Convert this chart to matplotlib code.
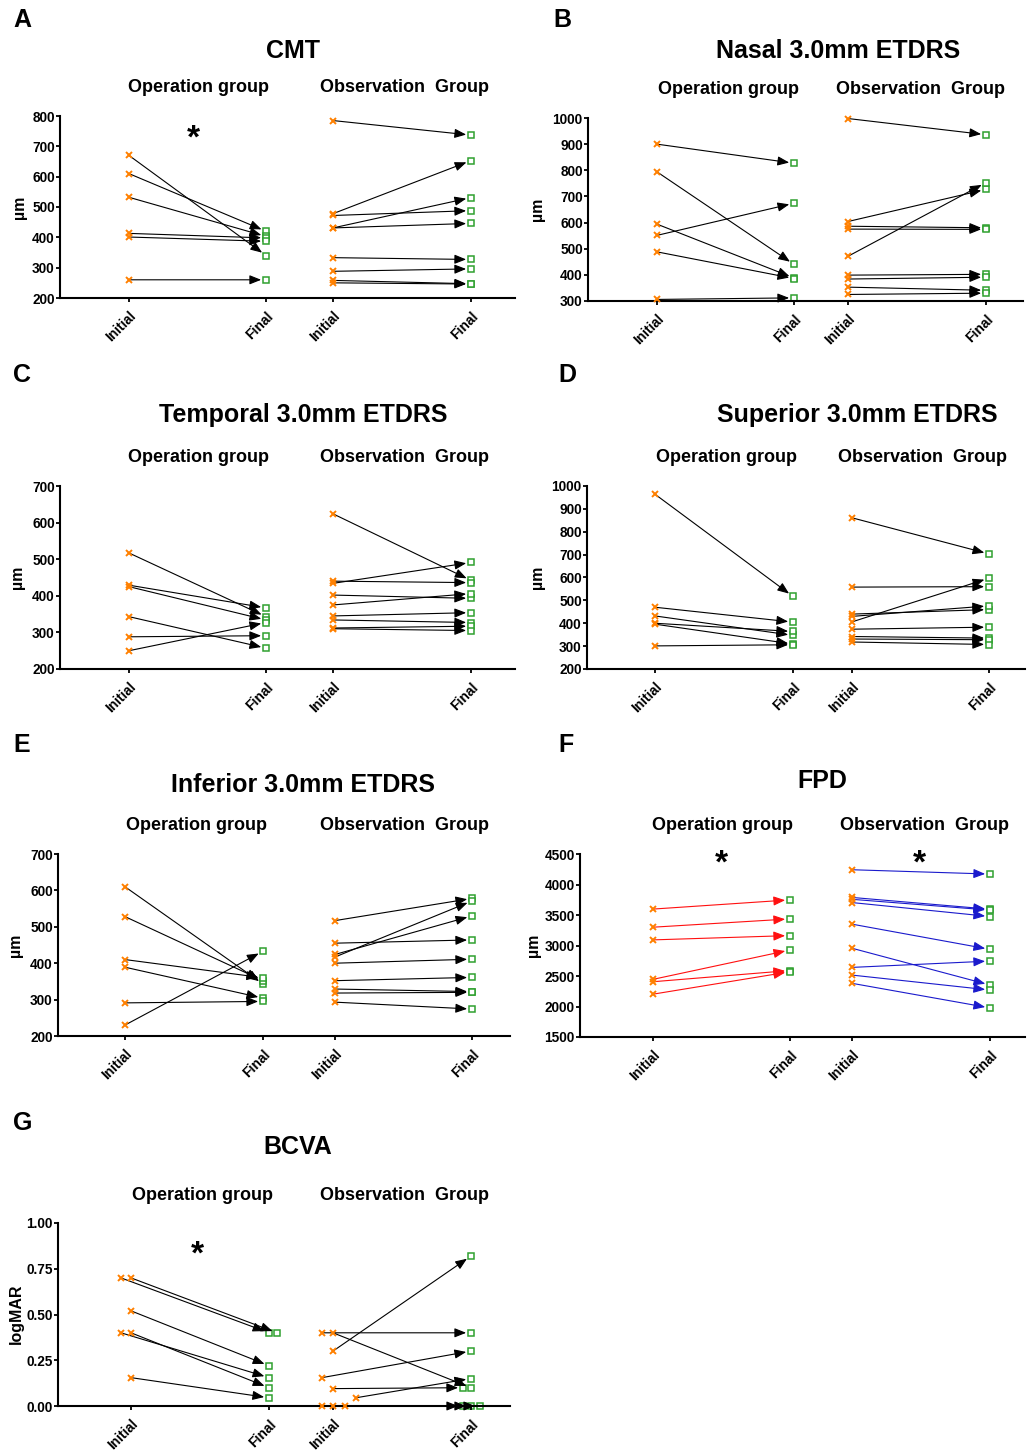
import matplotlib.pyplot as plt

plt.rcParams['font.family'] = ['Liberation Sans', 'DejaVu Sans']
plt.rcParams['font.weight'] = 'bold'

W, H = 1031, 1453
ORANGE = '#ff8000'
GREEN = '#2fa02f'

x_labels = ['Initial', 'Final', 'Initial', 'Final']

# A: CMT
cmt_op_initial = [670, 610, 532, 413, 401, 260]
cmt_op_final = [340, 420, 403, 398, 387, 260]
cmt_obs_initial = [785, 478, 472, 431, 431, 333, 288, 258, 250]
cmt_obs_final = [737, 653, 488, 531, 446, 327, 296, 247, 246]

# B: Nasal 3.0mm ETDRS
nasal_op_initial = [900, 794, 594, 551, 488, 306]
nasal_op_final = [827, 440, 388, 674, 386, 312]
nasal_obs_initial = [998, 604, 586, 575, 471, 399, 384, 353, 325]
nasal_obs_final = [936, 727, 580, 574, 753, 402, 391, 341, 330]

# C: Temporal 3.0mm ETDRS
temp_op_initial = [517, 429, 425, 343, 288, 250]
temp_op_final = [343, 367, 334, 257, 291, 327]
temp_obs_initial = [624, 434, 440, 402, 375, 345, 334, 312, 310]
temp_obs_final = [442, 491, 436, 393, 406, 354, 327, 317, 305]

# D: Superior 3.0mm ETDRS
sup_op_initial = [964, 470, 432, 400, 396, 301]
sup_op_final = [517, 405, 347, 364, 309, 306]
sup_obs_initial = [861, 558, 440, 430, 406, 374, 342, 331, 318]
sup_obs_final = [703, 560, 460, 476, 597, 383, 335, 328, 307]

# E: Inferior 3.0mm ETDRS
inf_op_initial = [610, 528, 410, 389, 291, 230]
inf_op_final = [343, 352, 360, 304, 295, 433]
inf_obs_initial = [517, 455, 424, 417, 400, 352, 329, 318, 293]
inf_obs_final = [578, 464, 530, 571, 411, 361, 322, 320, 274]

# F: FPD
fpd_op_initial = [3597, 3300, 3092, 2445, 2406, 2202]
fpd_op_final = [3748, 3436, 3163, 2926, 2590, 2570]
fpd_obs_initial = [4242, 3788, 3757, 3704, 3350, 2955, 2641, 2515, 2380]
fpd_obs_final = [4171, 3595, 3580, 3475, 2937, 2352, 2745, 2270, 1977]

# G: BCVA (logMAR)
bcva_op_initial = [0.70, 0.70, 0.52, 0.40, 0.40, 0.155]
bcva_op_final = [0.40, 0.40, 0.22, 0.155, 0.10, 0.045]
bcva_obs_initial = [0.40, 0.40, 0.30, 0.155, 0.095, 0.045, 0.0, 0.0, 0.0]
bcva_obs_final = [0.40, 0.10, 0.82, 0.30, 0.10, 0.15, 0.0, 0.0, 0.0]
# horizontal scatter of overlapping points (pixels)
bcva_op_init_dx = [-10, 0, 0, -10, 0, 0]
bcva_op_final_dx = [0, 8, 0, 0, 0, 0]
bcva_obs_init_dx = [-11, 0, 0, -11, 0, 23, -11, 0, 12]
bcva_obs_final_dx = [0, 0, 0, 0, -8, 0, -8, 0, 9]

fig = plt.figure(figsize=(W / 100, H / 100), dpi=100)


def ftext(x, y, s, **kw):
    fig.text(x / W, 1 - y / H, s, **kw)


def draw_panel(box, ticks_px, ylim, yticks, op_i, op_f, obs_i, obs_f,
               arrow_colors=('black', 'black'), dx=None, yfmt='{:.0f}'):
    left, right, top, bottom = box
    ax = fig.add_axes([left / W, 1 - bottom / H, (right - left) / W, (bottom - top) / H])
    t0 = ticks_px[0]
    unit = ticks_px[1] - ticks_px[0]
    xs = [(t - t0) / unit for t in ticks_px]
    if dx is None:
        dx = [[0] * len(op_i), [0] * len(op_f), [0] * len(obs_i), [0] * len(obs_f)]
    groups = [(op_i, op_f, xs[0], xs[1], dx[0], dx[1], arrow_colors[0]),
              (obs_i, obs_f, xs[2], xs[3], dx[2], dx[3], arrow_colors[1])]
    for yi, yf, xa, xb, da, db, col in groups:
        for k in range(len(yi)):
            x0 = xa + da[k] / unit
            x1 = xb + db[k] / unit
            ax.annotate('', xy=(x1, yf[k]), xytext=(x0, yi[k]),
                        arrowprops=dict(arrowstyle='-|>,head_length=0.7,head_width=0.28',
                                        color=col, lw=0.8, shrinkA=0, shrinkB=3.5,
                                        mutation_scale=10),
                        annotation_clip=False, zorder=2)
            ax.plot(x0, yi[k], marker='x', color=ORANGE, ms=5, mew=1.4,
                    linestyle='none', clip_on=False, zorder=3)
            ax.plot(x1, yf[k], marker='s', mfc='white', mec=GREEN, ms=5, mew=1.1,
                    linestyle='none', clip_on=False, zorder=1)
    ax.set_xlim((left - t0) / unit, (right - t0) / unit)
    ax.set_ylim(*ylim)
    ax.set_yticks(yticks)
    ax.set_yticklabels([yfmt.format(v) for v in yticks])
    ax.set_xticks(xs)
    ax.set_xticklabels(x_labels, rotation=45, ha='right', va='top', rotation_mode='anchor')
    for s in ['top', 'right']:
        ax.spines[s].set_visible(False)
    for s in ['left', 'bottom']:
        ax.spines[s].set_linewidth(1.5)
    ax.tick_params(axis='y', direction='out', length=3, width=1.3, labelsize=9.8, pad=0.8)
    ax.tick_params(axis='x', direction='out', length=3, width=1.3, labelsize=10, pad=5)
    ax.patch.set_alpha(0)
    return ax, xs


def star(ax, x, y):
    ax.text(x, y, '*', fontsize=24, fontweight='bold', ha='center', va='center',
            clip_on=False)


def headers(letter, lxy, title, txy, gy, op_x, obs_x, ylab, ylxy):
    ftext(lxy[0], lxy[1], letter, fontsize=18, ha='left', va='center')
    ftext(txy[0], txy[1], title, fontsize=18, ha='center', va='center')
    ftext(op_x, gy, 'Operation group', fontsize=13, ha='center', va='center')
    ftext(obs_x, gy, 'Observation  Group', fontsize=13, ha='center', va='center')
    ftext(ylxy[0], ylxy[1], ylab, fontsize=11.5, ha='center', va='center', rotation=90)


# A
axA, xsA = draw_panel((60, 515, 116, 298), (129, 266, 333, 471), (200, 800),
                      list(range(200, 801, 100)),
                      cmt_op_initial, cmt_op_final, cmt_obs_initial, cmt_obs_final)
star(axA, 0.47, 725)
headers('A', (13, 20), 'CMT', (293, 51), 87, 199, 404, 'µm', (19, 207))

# B
axB, xsB = draw_panel((588, 1023, 118, 301), (657, 794, 848, 986), (300, 1000),
                      list(range(300, 1001, 100)),
                      nasal_op_initial, nasal_op_final, nasal_obs_initial, nasal_obs_final)
headers('B', (553, 20), 'Nasal 3.0mm ETDRS', (838, 51), 90, 728, 920, 'µm', (538, 209))

# C
axC, xsC = draw_panel((60, 515, 486, 669), (129, 266, 333, 471), (200, 700),
                      list(range(200, 701, 100)),
                      temp_op_initial, temp_op_final, temp_obs_initial, temp_obs_final)
headers('C', (13, 375), 'Temporal 3.0mm ETDRS', (303, 415), 458, 199, 404, 'µm', (18, 577))

# D
axD, xsD = draw_panel((587, 1025, 486, 669), (655, 793, 852, 989), (200, 1000),
                      list(range(200, 1001, 100)),
                      sup_op_initial, sup_op_final, sup_obs_initial, sup_obs_final)
headers('D', (558, 375), 'Superior 3.0mm ETDRS', (857, 415), 458, 727, 923, 'µm', (538, 577))

# E
axE, xsE = draw_panel((58, 510, 854, 1036), (125, 263, 335, 472), (200, 700),
                      list(range(200, 701, 100)),
                      inf_op_initial, inf_op_final, inf_obs_initial, inf_obs_final)
headers('E', (13, 745), 'Inferior 3.0mm ETDRS', (303, 785), 826, 196, 404, 'µm', (16, 945))

# F
axF, xsF = draw_panel((580, 1025, 854, 1037), (653, 790, 852, 990), (1500, 4500),
                      list(range(1500, 4501, 500)),
                      fpd_op_initial, fpd_op_final, fpd_obs_initial, fpd_obs_final,
                      arrow_colors=('#ff1010', '#1a1acc'))
star(axF, 0.50, 4340)
star(axF, xsF[2] + 0.49, 4340)
headers('F', (558, 745), 'FPD', (822, 781), 826, 723, 924, 'µm', (533, 945))

# G
axG, xsG = draw_panel((58, 510, 1223, 1406), (131, 269, 333, 471), (0, 1.0),
                      [0, 0.25, 0.5, 0.75, 1.0],
                      bcva_op_initial, bcva_op_final, bcva_obs_initial, bcva_obs_final,
                      dx=[bcva_op_init_dx, bcva_op_final_dx, bcva_obs_init_dx, bcva_obs_final_dx],
                      yfmt='{:.2f}')
star(axG, 0.48, 0.823)
headers('G', (13, 1123), 'BCVA', (298, 1147), 1195, 203, 405, 'logMAR', (16, 1314))

fig.savefig('out.png', dpi=100, facecolor='white')
